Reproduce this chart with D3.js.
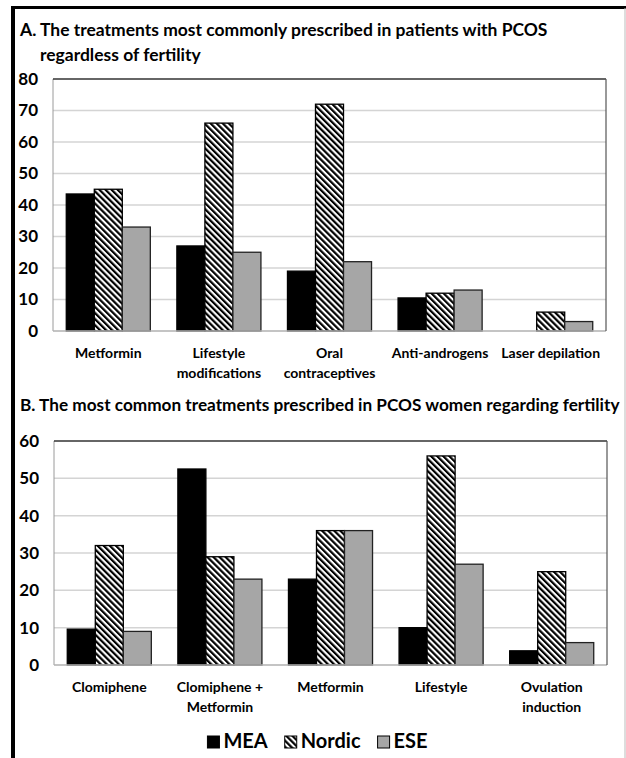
<!DOCTYPE html>
<html>
<head>
<meta charset="utf-8">
<script src="https://cdn.jsdelivr.net/npm/d3@7"></script>
<style>
  html, body { margin: 0; padding: 0; background: #fff; }
  svg { display: block; }
  text { font-family: Lato, "Open Sans", sans-serif; font-weight: bold; fill: #000; }
</style>
</head>
<body>
<script>
// ---------- data ----------
const seriesNames = ["MEA", "Nordic", "ESE"];

const titleA = ["A. The treatments most commonly prescribed in patients with PCOS", "regardless of fertility"];
const categoriesA = [["Metformin"], ["Lifestyle", "modifications"], ["Oral", "contraceptives"], ["Anti-androgens"], ["Laser depilation"]];
const meaA    = [43.5, 27, 19, 10.5, 0];
const nordicA = [45, 66, 72, 12, 6];
const eseA    = [33, 25, 22, 13, 3];
const ticksA  = [0, 10, 20, 30, 40, 50, 60, 70, 80];

const titleB = "B. The most common treatments prescribed in PCOS women regarding fertility";
const categoriesB = [["Clomiphene"], ["Clomiphene +", "Metformin"], ["Metformin"], ["Lifestyle"], ["Ovulation", "induction"]];
const meaB    = [9.6, 52.5, 23, 10, 3.8];
const nordicB = [32, 29, 36, 56, 25];
const eseB    = [9, 23, 36, 27, 6];
const ticksB  = [0, 10, 20, 30, 40, 50, 60];

// ---------- drawing ----------
const W = 626, H = 758;
const svg = d3.select("body").append("svg").attr("width", W).attr("height", H);

const defs = svg.append("defs");
const pat = defs.append("pattern")
  .attr("id", "hatch")
  .attr("patternUnits", "userSpaceOnUse")
  .attr("width", 4.3).attr("height", 4.3)
  .attr("patternTransform", "rotate(-45)");
pat.append("rect").attr("width", 4.3).attr("height", 4.3).attr("fill", "#fff");
pat.append("rect").attr("width", 2.2).attr("height", 4.3).attr("fill", "#000");

const fills = { MEA: "#000", Nordic: "url(#hatch)", ESE: "#a6a6a6" };

// frame
svg.append("rect").attr("x", 11).attr("y", 6).attr("width", W - 11).attr("height", 3).attr("fill", "#000");
svg.append("rect").attr("x", 11).attr("y", 6).attr("width", 4).attr("height", H - 6).attr("fill", "#000");
svg.append("line").attr("x1", 625).attr("x2", 625).attr("y1", 8).attr("y2", H).attr("stroke", "#bbb").attr("stroke-width", 1);

function fitText(sel, target) {
  let fs = parseFloat(sel.attr("font-size"));
  const len = sel.node().getComputedTextLength();
  if (len > 0) sel.attr("font-size", fs * target / len);
}

// titles
const tA1 = svg.append("text").attr("x", 20).attr("y", 36).attr("font-size", 17).text(titleA[0]);
fitText(tA1, 528);
const tA2 = svg.append("text").attr("x", 40).attr("y", 61).attr("font-size", 17).text(titleA[1]);
tA2.attr("font-size", tA1.attr("font-size"));
const tB = svg.append("text").attr("x", 20).attr("y", 411).attr("font-size", 17).text(titleB);
fitText(tB, 600);

function panel(cfg) {
  const { x0, x1, y0, y1, cats, data, ticks, maxV, labelY } = cfg;
  const g = svg.append("g");
  const x = d3.scaleBand().domain(d3.range(cats.length)).range([x0, x1]).paddingInner(0.24).paddingOuter(0.12);
  const xs = d3.scaleBand().domain(seriesNames).range([0, x.bandwidth()]).padding(0);
  const y = d3.scaleLinear().domain([0, maxV]).range([y1, y0]);

  // gridlines
  g.append("g").selectAll("line").data(ticks.slice(1, -1)).join("line")
    .attr("x1", x0).attr("x2", x1)
    .attr("y1", d => y(d)).attr("y2", d => y(d))
    .attr("stroke", "#d4d4d4").attr("stroke-width", 1.5);

  // bars
  const rows = cats.map((c, i) => seriesNames.map((s, j) => ({ i, s, v: data[j][i] })));
  g.append("g").selectAll("g").data(rows).join("g")
    .attr("transform", (d, i) => `translate(${x(i)},0)`)
    .selectAll("rect").data(d => d.filter(e => e.v > 0)).join("rect")
    .attr("x", d => xs(d.s)).attr("width", xs.bandwidth())
    .attr("y", d => y(d.v)).attr("height", d => y(0) - y(d.v))
    .attr("fill", d => fills[d.s])
    .attr("stroke", d => d.s === "ESE" ? "#222" : "#000")
    .attr("stroke-width", 1.3);

  // plot border
  g.append("line").attr("x1", x0).attr("x2", x0).attr("y1", y0).attr("y2", y1).attr("stroke", "#9a9a9a").attr("stroke-width", 1);
  g.append("line").attr("x1", x0).attr("x2", x1).attr("y1", y1).attr("y2", y1).attr("stroke", "#b0b0b0").attr("stroke-width", 1.5);
  g.append("line").attr("x1", x0).attr("x2", x1).attr("y1", y0).attr("y2", y0).attr("stroke", "#333").attr("stroke-width", 1.5);
  g.append("line").attr("x1", x1).attr("x2", x1).attr("y1", y0).attr("y2", y1).attr("stroke", "#555").attr("stroke-width", 1.2);

  // y axis
  const ya = g.append("g").attr("transform", `translate(${x0},0)`)
    .call(d3.axisLeft(y).tickValues(ticks).tickSize(0).tickPadding(15).tickFormat(d3.format("d")));
  ya.select(".domain").remove();
  ya.selectAll("text").attr("font-family", "Lato, sans-serif").attr("font-weight", "bold").attr("font-size", 17).attr("fill", "#000");

  // x labels
  g.append("g").selectAll("text").data(cats).join("text")
    .attr("text-anchor", "middle")
    .attr("font-size", 14)
    .attr("x", (d, i) => x(i) + x.bandwidth() / 2)
    .attr("y", labelY)
    .selectAll("tspan").data(d => d).join("tspan")
    .attr("x", function () { return d3.select(this.parentNode).attr("x"); })
    .attr("dy", (d, k) => k === 0 ? 0 : 20)
    .text(d => d);
}

panel({ x0: 53, x1: 606, y0: 79, y1: 331, cats: categoriesA, data: [meaA, nordicA, eseA], ticks: ticksA, maxV: 80, labelY: 358 });
panel({ x0: 54, x1: 607, y0: 441, y1: 665, cats: categoriesB, data: [meaB, nordicB, eseB], ticks: ticksB, maxV: 60, labelY: 692 });

// legend
const lg = svg.append("g");
let cx = 0;
const items = [];
seriesNames.forEach(s => {
  const it = lg.append("g").attr("transform", `translate(${cx},0)`);
  it.append("rect").attr("x", 0).attr("y", -12).attr("width", 12).attr("height", 12)
    .attr("fill", fills[s]).attr("stroke", "#000").attr("stroke-width", 1);
  const t = it.append("text").attr("x", 16).attr("y", 0).attr("font-size", 20).text(s);
  cx += 16 + t.node().getComputedTextLength() + 17;
});
const lw = cx - 17;
lg.attr("transform", `translate(${317.5 - lw / 2},748)`);
</script>
</body>
</html>
